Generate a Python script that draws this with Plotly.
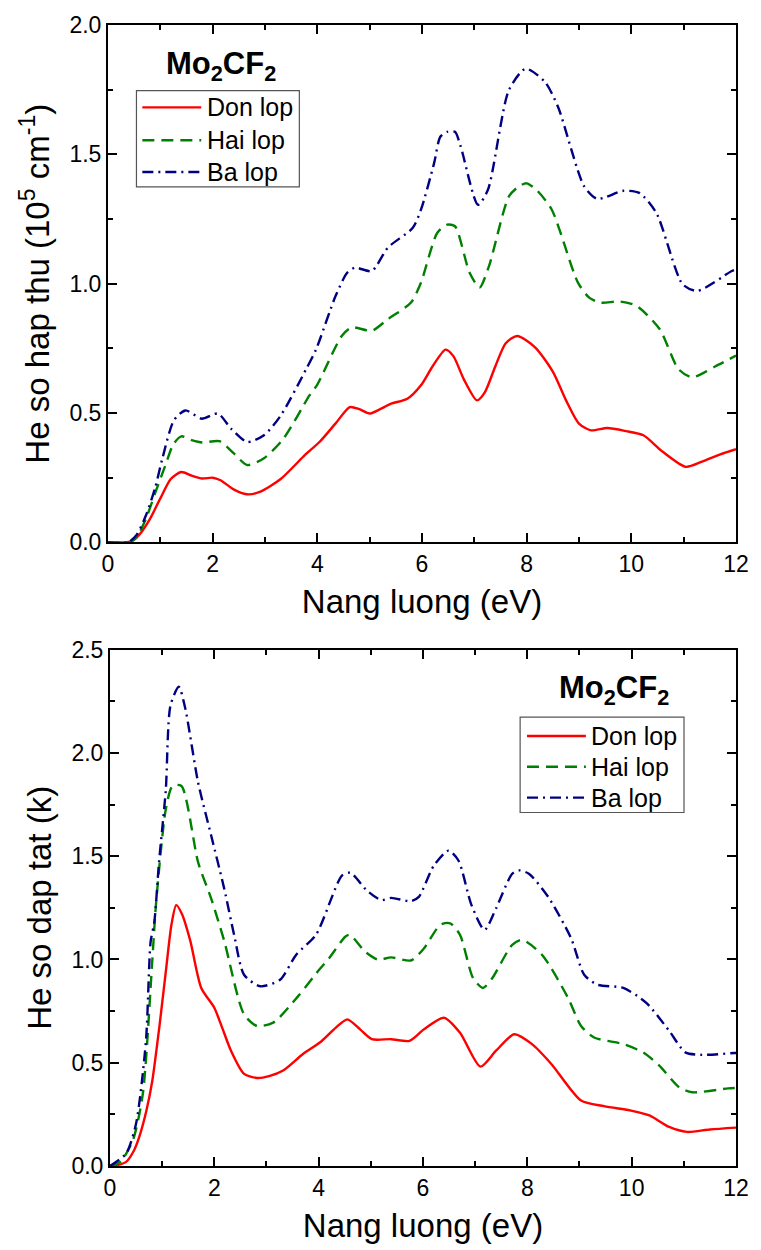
import plotly.graph_objects as go

# ---- Absorption coefficient (10^5 cm^-1) vs photon energy (eV) ----
abs_don_x = [0, 0.3, 0.45, 0.6, 0.8, 1.0, 1.2, 1.4, 1.6, 1.8, 2.0, 2.15, 2.4, 2.65, 2.9, 3.3,
             3.76, 4.05, 4.35, 4.62, 4.8, 5.0, 5.2, 5.41, 5.72, 5.98, 6.2, 6.45, 6.6, 6.8, 7.05,
             7.2, 7.4, 7.6, 7.82, 8.16, 8.5, 8.75, 9.0, 9.23, 9.54, 9.9, 10.23, 10.6, 11.04,
             11.35, 11.7, 12.0]
abs_don_y = [0, 0.0, 0.005, 0.03, 0.09, 0.17, 0.245, 0.272, 0.258, 0.247, 0.25, 0.24, 0.205,
             0.186, 0.195, 0.245, 0.337, 0.39, 0.46, 0.523, 0.515, 0.498, 0.515, 0.536, 0.555,
             0.607, 0.68, 0.745, 0.72, 0.63, 0.549, 0.58, 0.68, 0.77, 0.798, 0.754, 0.66, 0.55,
             0.459, 0.433, 0.442, 0.43, 0.414, 0.35, 0.292, 0.312, 0.34, 0.36]

abs_hai_x = [0, 0.4, 0.55, 0.73, 0.9, 1.1, 1.25, 1.4, 1.6, 1.8, 2.13, 2.4, 2.66, 2.98, 3.35,
             3.85, 4.0, 4.47, 4.66, 5.04, 5.35, 5.79, 5.98, 6.29, 6.48, 6.63, 6.91, 7.1, 7.28,
             7.66, 7.85, 8.0, 8.2, 8.48, 8.98, 9.2, 9.41, 9.79, 10.1, 10.54, 10.9, 11.16, 11.6, 12.0]
abs_hai_y = [0, 0.0, 0.02, 0.094, 0.19, 0.30, 0.38, 0.41, 0.395, 0.386, 0.391, 0.345, 0.299,
             0.325, 0.40, 0.568, 0.61, 0.799, 0.831, 0.818, 0.863, 0.927, 1.004, 1.196, 1.228,
             1.222, 1.042, 0.985, 1.068, 1.337, 1.376, 1.388, 1.36, 1.286, 1.004, 0.945, 0.927,
             0.931, 0.914, 0.825, 0.67, 0.638, 0.68, 0.722]

abs_ba_x = [0, 0.38, 0.55, 0.73, 0.9, 1.04, 1.26, 1.48, 1.79, 2.1, 2.35, 2.66, 2.98, 3.3,
            3.79, 3.98, 4.35, 4.57, 4.72, 5.04, 5.35, 5.82, 5.98, 6.23, 6.35, 6.48, 6.63, 6.74,
            7.07, 7.26, 7.66, 7.98, 8.35, 8.6, 9.1, 9.35, 9.85, 10.16, 10.48, 10.98, 11.26,
            11.92, 12.0]
abs_ba_y = [0, 0.0, 0.03, 0.107, 0.21, 0.325, 0.472, 0.51, 0.478, 0.498, 0.44, 0.388, 0.414,
            0.49, 0.671, 0.748, 0.953, 1.042, 1.062, 1.049, 1.14, 1.215, 1.286, 1.465, 1.568,
            1.587, 1.587, 1.53, 1.305, 1.363, 1.748, 1.831, 1.78, 1.683, 1.376, 1.328, 1.359,
            1.35, 1.273, 0.998, 0.972, 1.049, 1.055]

# ---- Extinction coefficient k vs photon energy (eV) ----
ext_don_x = [0, 0.15, 0.31, 0.45, 0.56, 0.7, 0.81, 0.95, 1.07, 1.18, 1.27, 1.38, 1.54, 1.75,
             2.0, 2.15, 2.32, 2.57, 2.82, 3.05, 3.32, 3.7, 4.05, 4.33, 4.55, 4.8, 5.02, 5.39,
             5.74, 6.02, 6.4, 6.71, 7.1, 7.4, 7.75, 8.09, 8.46, 9.03, 9.47, 10.03, 10.34, 10.72,
             11.06, 11.5, 12.0]
ext_don_y = [0, 0.005, 0.02, 0.07, 0.14, 0.27, 0.41, 0.68, 0.94, 1.17, 1.263, 1.22, 1.09,
             0.862, 0.766, 0.67, 0.558, 0.446, 0.426, 0.435, 0.462, 0.542, 0.603, 0.67, 0.71,
             0.66, 0.614, 0.614, 0.606, 0.662, 0.718, 0.645, 0.481, 0.558, 0.638, 0.59, 0.494,
             0.317, 0.29, 0.266, 0.245, 0.189, 0.165, 0.177, 0.186]

ext_hai_x = [0, 0.2, 0.44, 0.63, 0.81, 0.88, 1.07, 1.2, 1.37, 1.69, 1.94, 2.19, 2.57, 2.82,
             3.13, 3.6, 4.01, 4.2, 4.51, 4.6, 4.89, 5.14, 5.39, 5.77, 6.02, 6.33, 6.52, 6.71,
             6.96, 7.15, 7.33, 7.71, 7.9, 8.28, 8.78, 9.03, 9.28, 9.84, 10.22, 10.53, 10.91,
             11.16, 11.85, 12.0]
ext_hai_y = [0, 0.02, 0.125, 0.35, 0.99, 1.26, 1.727, 1.84, 1.84, 1.47, 1.295, 1.09, 0.734,
             0.678, 0.694, 0.82, 0.95, 1.006, 1.11, 1.119, 1.038, 0.999, 1.01, 0.995, 1.054,
             1.167, 1.175, 1.119, 0.91, 0.862, 0.91, 1.071, 1.095, 1.023, 0.814, 0.678, 0.622,
             0.59, 0.55, 0.486, 0.381, 0.357, 0.376, 0.378]

ext_ba_x = [0, 0.31, 0.5, 0.69, 0.78, 0.85, 0.94, 1.07, 1.16, 1.32, 1.44, 1.69, 1.94, 2.19,
            2.38, 2.57, 2.88, 3.26, 3.57, 3.95, 4.45, 4.61, 4.92, 5.2, 5.39, 5.77, 5.92, 6.21,
            6.49, 6.68, 6.93, 7.18, 7.4, 7.71, 7.84, 8.03, 8.4, 8.84, 9.09, 9.34, 9.84, 10.28,
            10.72, 11.03, 11.35, 11.97, 12.0]
ext_ba_y = [0, 0.06, 0.205, 0.606, 1.087, 1.18, 1.47, 1.82, 2.23, 2.32, 2.22, 1.856, 1.6,
            1.343, 1.119, 0.926, 0.87, 0.902, 1.023, 1.12, 1.407, 1.42, 1.335, 1.287, 1.298,
            1.282, 1.303, 1.455, 1.527, 1.479, 1.263, 1.143, 1.247, 1.415, 1.431, 1.415, 1.303,
            1.102, 0.926, 0.878, 0.862, 0.79, 0.654, 0.55, 0.538, 0.547, 0.547]

series_names = ["Don lop", "Hai lop", "Ba lop"]
x_ticks = [0, 2, 4, 6, 8, 10, 12]
abs_ticks = [0.0, 0.5, 1.0, 1.5, 2.0]
ext_ticks = [0.0, 0.5, 1.0, 1.5, 2.0, 2.5]

FONT = "Liberation Sans, Arial, sans-serif"
styles = [
    dict(color="#ff0000", width=2.4, dash="solid"),
    dict(color="#008000", width=2.4, dash="12px,7px"),
    dict(color="#000080", width=2.4, dash="11px,5px,2px,5px"),
]

W, H = 761, 1250
ML, MR, MT, MB = 108, 13, 17, 84
PW, PH = W - ML - MR, H - MT - MB


def px(xp):
    return (xp - ML) / PW


def py(yp):
    return (H - MB - yp) / PH


fig = go.Figure()

top = [(abs_don_x, abs_don_y), (abs_hai_x, abs_hai_y), (abs_ba_x, abs_ba_y)]
bot = [(ext_don_x, ext_don_y), (ext_hai_x, ext_hai_y), (ext_ba_x, ext_ba_y)]

for (xs, ys), name, st in zip(top, series_names, styles):
    fig.add_trace(go.Scatter(x=xs, y=ys, name=name, mode="lines", line=dict(**st, shape="spline", smoothing=0.7),
                             xaxis="x", yaxis="y", showlegend=False))
for (xs, ys), name, st in zip(bot, series_names, styles):
    fig.add_trace(go.Scatter(x=xs, y=ys, name=name, mode="lines", line=dict(**st, shape="spline", smoothing=0.7),
                             xaxis="x2", yaxis="y2", showlegend=False))

axis_common = dict(
    showline=True, linecolor="black", linewidth=2, mirror="allticks",
    ticks="inside", ticklen=9, tickwidth=2, tickcolor="black",
    showgrid=False, zeroline=False,
    tickfont=dict(family=FONT, size=23, color="black"),
    title_font=dict(family=FONT, size=33, color="black"),
)
xminor = dict(dtick=1, ticks="inside", ticklen=5, tickwidth=2, tickcolor="black", showgrid=False)
yminor = dict(dtick=0.25, ticks="inside", ticklen=5, tickwidth=2, tickcolor="black", showgrid=False)

top_dom = [py(538), 1.0]
bot_dom = [0.0, py(646)]

fig.update_layout(
    width=W, height=H,
    margin=dict(l=ML, r=MR, t=MT, b=MB),
    paper_bgcolor="white", plot_bgcolor="white",
    showlegend=False,
    xaxis=dict(axis_common, domain=[0, 1], anchor="y", range=[0, 12], tickvals=x_ticks,
               minor=xminor, title=dict(text="Nang luong (eV)", standoff=14)),
    yaxis=dict(axis_common, domain=top_dom, anchor="x", range=[0, 2.0], tickvals=abs_ticks,
               tickformat=".1f", minor=yminor,
               title=dict(text="He so hap thu (10<sup>5</sup> cm<sup>-1</sup>)", standoff=10)),
    xaxis2=dict(axis_common, domain=[px(110), 1], anchor="y2", range=[0, 12], tickvals=x_ticks,
                minor=xminor, title=dict(text="Nang luong (eV)", standoff=14)),
    yaxis2=dict(axis_common, domain=bot_dom, anchor="x2", range=[0, 2.5], tickvals=ext_ticks,
                tickformat=".1f", minor=yminor,
                title=dict(text="He so dap tat (k)", standoff=10)),
)

# Compound labels and hand-drawn legends for both panels
def add_legend(box, rows_y, line_x, text_x, title_xy):
    x0, y0, x1, y1 = box
    fig.add_shape(type="rect", xref="paper", yref="paper", x0=px(x0), x1=px(x1), y0=py(y1), y1=py(y0),
                  line=dict(color="#555555", width=1.2), fillcolor="white", layer="above")
    for name, st, ry in zip(series_names, styles, rows_y):
        fig.add_shape(type="line", xref="paper", yref="paper", x0=px(line_x[0]), x1=px(line_x[1]),
                      y0=py(ry), y1=py(ry), line=dict(color=st["color"], width=2.4, dash=st["dash"]),
                      layer="above")
        fig.add_annotation(xref="paper", yref="paper", x=px(text_x), y=py(ry), text=name,
                           showarrow=False, xanchor="left", yanchor="middle",
                           font=dict(family=FONT, size=25, color="black"))
    fig.add_annotation(xref="paper", yref="paper", x=px(title_xy[0]), y=py(title_xy[1]),
                       text="<b>Mo<sub>2</sub>CF<sub>2</sub></b>", showarrow=False,
                       xanchor="center", yanchor="middle",
                       font=dict(family=FONT, size=31, color="black"))


add_legend((137, 83, 303, 180), (100, 133, 165), (143, 203), 207, (223, 58))
add_legend((528, 714, 695, 810), (733, 764, 795), (535, 595), 598, (624, 687))

fig.write_html("out.html")
